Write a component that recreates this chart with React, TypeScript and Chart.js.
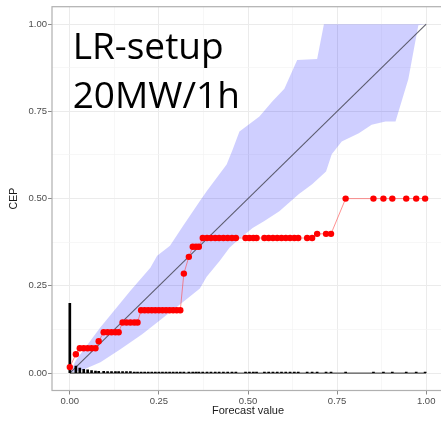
import React, { useEffect, useRef } from 'react';
import { Chart, registerables } from 'chart.js';

Chart.register(...registerables);

// ---- data ----
const axisTicks = [0, 0.125, 0.25, 0.375, 0.5, 0.625, 0.75, 0.875, 1];
const annotationLines = ['LR-setup', '20MW/1h'];

const cepX = [
  0, 0.017,
  0.028, 0.039, 0.05, 0.061, 0.072,
  0.081,
  0.095, 0.106, 0.117, 0.128, 0.137,
  0.148, 0.159, 0.17, 0.181, 0.19,
  0.2, 0.21, 0.22, 0.23, 0.24, 0.25, 0.26, 0.27, 0.28, 0.29, 0.3, 0.31,
  0.32, 0.334,
  0.345, 0.354, 0.362,
  0.373, 0.385, 0.396, 0.408, 0.419, 0.431, 0.443, 0.455, 0.466,
  0.493, 0.504, 0.515, 0.524,
  0.546, 0.558, 0.57, 0.582, 0.594, 0.606, 0.618, 0.63, 0.641,
  0.666, 0.68,
  0.694, 0.719, 0.733,
  0.774,
  0.852, 0.88, 0.905, 0.944, 0.972, 0.997,
];
const cepY = [
  0.017, 0.054,
  0.071, 0.071, 0.071, 0.071, 0.071,
  0.091,
  0.117, 0.117, 0.117, 0.117, 0.117,
  0.145, 0.145, 0.145, 0.145, 0.145,
  0.18, 0.18, 0.18, 0.18, 0.18, 0.18, 0.18, 0.18, 0.18, 0.18, 0.18, 0.18,
  0.285, 0.333,
  0.362, 0.362, 0.362,
  0.387, 0.387, 0.387, 0.387, 0.387, 0.387, 0.387, 0.387, 0.387,
  0.387, 0.387, 0.387, 0.387,
  0.387, 0.387, 0.387, 0.387, 0.387, 0.387, 0.387, 0.387, 0.387,
  0.387, 0.387,
  0.399, 0.399, 0.399,
  0.5,
  0.5, 0.5, 0.5, 0.5, 0.5, 0.5,
];
const histHeight = [
  0.2, 0.02,
  0.014, 0.011, 0.009, 0.007, 0.006,
  0.005,
  0.005, 0.004, 0.004, 0.004, 0.004,
  0.004, 0.004, 0.004, 0.003, 0.003,
  0.003, 0.003, 0.003, 0.003, 0.003, 0.003, 0.003, 0.003, 0.003, 0.003, 0.003, 0.003,
  0.003, 0.003,
  0.003, 0.003, 0.003,
  0.003, 0.003, 0.003, 0.003, 0.003, 0.003, 0.003, 0.003, 0.003,
  0.003, 0.003, 0.003, 0.003,
  0.003, 0.003, 0.003, 0.003, 0.003, 0.003, 0.003, 0.003, 0.003,
  0.003, 0.003,
  0.003, 0.003, 0.003,
  0.003,
  0.003, 0.003, 0.003, 0.003, 0.003, 0.003,
];
const baseX = [0, 1];
const baseY = [0, 0];
const diagX = [0, 1];
const diagY = [0, 1];

const bandUpperX = [0, 0.017, 0.086, 0.17, 0.226, 0.245, 0.281, 0.318, 0.365, 0.384, 0.44, 0.457, 0.476, 0.532, 0.568, 0.602, 0.638, 0.694, 0.713, 1.0];
const bandUpperY = [0, 0.037, 0.131, 0.236, 0.302, 0.336, 0.365, 0.422, 0.493, 0.521, 0.598, 0.641, 0.692, 0.735, 0.778, 0.815, 0.897, 0.9, 1.0, 1.0];
const bandLowerX = [0, 0.036, 0.086, 0.142, 0.203, 0.253, 0.323, 0.365, 0.384, 0.421, 0.448, 0.476, 0.513, 0.546, 0.588, 0.643, 0.68, 0.719, 0.735, 0.763, 0.811, 0.847, 0.886, 0.914, 0.95, 0.978, 1.0];
const bandLowerY = [0, 0.009, 0.031, 0.068, 0.111, 0.151, 0.208, 0.242, 0.276, 0.322, 0.359, 0.385, 0.416, 0.436, 0.464, 0.513, 0.541, 0.578, 0.627, 0.664, 0.687, 0.712, 0.721, 0.721, 0.843, 0.997, 1.0];

const pts = (xs: number[], ys: number[]) => xs.map((x, i) => ({ x, y: ys[i] }));
const isMajor = (v: any) => typeof v === 'number' && Math.abs(v * 4 - Math.round(v * 4)) < 1e-6;

const FONT = 'Liberation Sans';

const panelPlugin = {
  id: 'panelDecor',
  afterDraw(chart: any) {
    const { ctx, chartArea } = chart;
    ctx.save();
    ctx.strokeStyle = '#B0B0B0';
    ctx.lineWidth = 1.2;
    ctx.strokeRect(chartArea.left, chartArea.top, chartArea.right - chartArea.left, chartArea.bottom - chartArea.top);
    ctx.fillStyle = '#000000';
    ctx.font = '37px "Open Sans"';
    ctx.textBaseline = 'alphabetic';
    ctx.textAlign = 'left';
    const x = chart.scales.x.getPixelForValue(0.008);
    ctx.fillText(annotationLines[0], x, 59);
    ctx.fillText(annotationLines[1], x, 108);
    ctx.restore();
  },
};

function axisOpts(title: string, isX: boolean) {
  return {
    type: 'linear' as const,
    min: -0.05,
    max: 1.05,
    offset: false,
    afterBuildTicks: (s: any) => {
      s.ticks = axisTicks.map((v) => ({ value: v }));
    },
    afterFit: (s: any) => {
      if (isX) s.height = 30.5;
      else s.width = 52;
    },
    border: { display: false },
    grid: {
      offset: false,
      color: (c: any) => (c.tick && isMajor(c.tick.value) ? '#EBEBEB' : '#F4F4F4'),
      lineWidth: (c: any) => (c.tick && isMajor(c.tick.value) ? 1 : 0.7),
      tickColor: (c: any) => (c.tick && isMajor(c.tick.value) ? '#8A8A8A' : 'rgba(0,0,0,0)'),
      tickLength: 4,
      tickWidth: 1,
      drawTicks: true,
    },
    ticks: {
      autoSkip: false,
      maxRotation: 0,
      padding: 1,
      color: '#4D4D4D',
      font: { family: FONT, size: 9.5 },
      callback: (v: any) => (isMajor(v) ? Number(v).toFixed(2) : ''),
    },
    title: {
      display: true,
      text: title,
      color: '#1A1A1A',
      font: { family: FONT, size: isX ? 11 : 10.5 },
      padding: isX ? { top: 0, bottom: 3 } : { top: 8, bottom: 0 },
    },
  };
}

export default function App() {
  const ref = useRef<HTMLCanvasElement | null>(null);
  useEffect(() => {
    if (!ref.current) return;
    const chart = new Chart(ref.current, {
      type: 'scatter',
      data: {
        datasets: [
          {
            type: 'line',
            label: 'CEP',
            data: pts(cepX, cepY),
            borderColor: 'rgba(255,70,70,0.75)',
            borderWidth: 0.8,
            pointRadius: 3.2,
            pointBackgroundColor: '#FF0000',
            pointBorderWidth: 0,
            pointBorderColor: '#FF0000',
            showLine: true,
            tension: 0,
            order: 0,
          } as any,
          {
            type: 'bar',
            label: 'hist',
            data: pts(cepX, histHeight),
            backgroundColor: '#000000',
            barThickness: 2,
            order: 1,
          } as any,
          {
            type: 'line',
            label: 'base',
            data: pts(baseX, baseY),
            borderColor: '#555555',
            borderWidth: 1.3,
            pointRadius: 0,
            order: 2,
          } as any,
          {
            type: 'line',
            label: 'diag',
            data: pts(diagX, diagY),
            borderColor: 'rgba(70,70,85,0.85)',
            borderWidth: 1.1,
            pointRadius: 0,
            order: 3,
          } as any,
          {
            type: 'line',
            label: 'upper',
            data: pts(bandUpperX, bandUpperY),
            borderColor: 'rgba(0,0,0,0)',
            borderWidth: 0,
            pointRadius: 0,
            backgroundColor: 'rgba(0,0,255,0.19)',
            fill: '+1',
            order: 4,
          } as any,
          {
            type: 'line',
            label: 'lower',
            data: pts(bandLowerX, bandLowerY),
            borderColor: 'rgba(0,0,0,0)',
            borderWidth: 0,
            pointRadius: 0,
            fill: false,
            order: 5,
          } as any,
        ],
      },
      options: {
        animation: false,
        responsive: false,
        maintainAspectRatio: false,
        devicePixelRatio: 1,
        layout: { padding: { top: 4.5, right: 0, left: 0, bottom: 0 } },
        plugins: { legend: { display: false }, tooltip: { enabled: false } },
        scales: {
          x: axisOpts('Forecast value', true) as any,
          y: axisOpts('CEP', false) as any,
        },
      },
      plugins: [panelPlugin],
    });
    return () => chart.destroy();
  }, []);

  return (
    <div style={{ position: 'fixed', left: 0, top: 0, width: 441, height: 421, overflow: 'hidden', background: '#fff' }}>
      <canvas ref={ref} width={448} height={421} style={{ display: 'block', width: 448, height: 421 }} />
    </div>
  );
}
